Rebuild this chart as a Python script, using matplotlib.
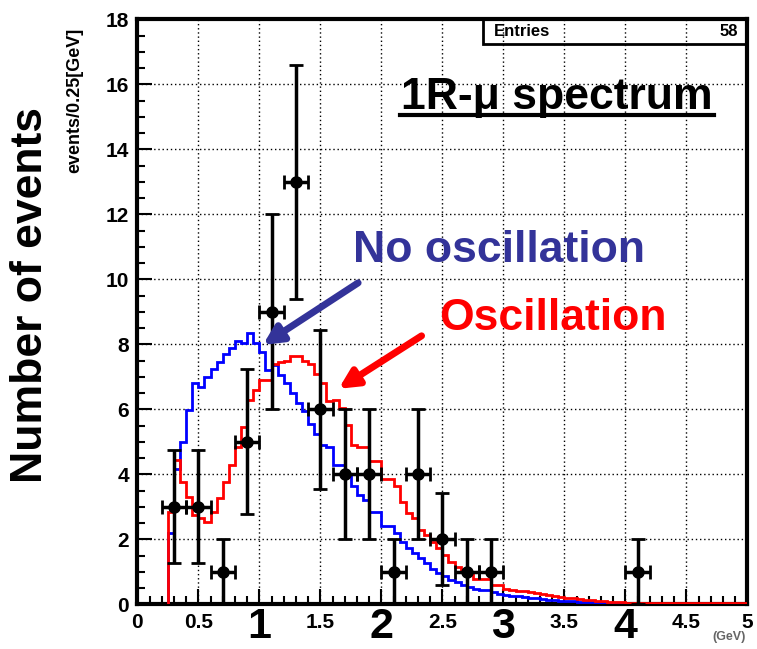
import numpy as np
import matplotlib
matplotlib.use("Agg")
import matplotlib.pyplot as plt
from matplotlib.ticker import MultipleLocator

plt.rcParams.update({"font.family": ["Liberation Sans", "DejaVu Sans"],
                     "font.weight": "bold"})

# MC expectation, 0.05 GeV bins starting at 0.25 GeV
BIN_W = 0.05
FIRST_EDGE = 0.25
no_osc = [2.2, 4.15, 5.0, 5.97, 6.8, 6.7, 7.0, 7.25, 7.45, 7.7,
          7.9, 8.1, 8.05, 8.35, 8.05, 7.75, 7.2, 7.35, 7.05, 6.8,
          6.5, 6.2, 5.95, 5.55, 5.25, 4.9, 4.85, 4.3, 4.3, 4.0,
          3.65, 3.35, 3.2, 2.85, 2.85, 2.41, 2.41, 2.19, 1.93, 1.72,
          1.57, 1.41, 1.26, 1.10, 0.97, 0.87, 0.76, 0.69, 0.59, 0.52,
          0.46, 0.45, 0.44, 0.38, 0.31, 0.28, 0.26, 0.24, 0.22, 0.20,
          0.18, 0.16, 0.14, 0.12, 0.11, 0.10, 0.09, 0.08, 0.07, 0.06,
          0.05, 0.04, 0.035, 0.03, 0.025, 0.02, 0.015, 0.01, 0.01,
          0, 0, 0, 0, 0, 0, 0, 0, 0, 0, 0, 0, 0, 0, 0, 0]
osc = [2.85, 4.44, 3.77, 3.31, 2.75, 2.65, 2.54, 2.85, 3.26, 3.77,
       4.29, 4.85, 5.47, 6.29, 6.6, 6.9, 6.9, 7.38, 7.45, 7.5,
       7.64, 7.64, 7.5, 7.4, 7.1, 6.8, 6.25, 6.3, 6.03, 5.52,
       4.9, 4.85, 4.85, 4.4, 4.4, 3.84, 3.84, 3.63, 3.16, 2.8,
       2.65, 2.29, 2.13, 1.93, 1.72, 1.52, 1.31, 1.15, 1.07, 0.95,
       0.79, 0.79, 0.78, 0.59, 0.59, 0.47, 0.45, 0.42, 0.40, 0.37,
       0.34, 0.31, 0.28, 0.25, 0.22, 0.20, 0.18, 0.16, 0.14, 0.12,
       0.10, 0.09, 0.08, 0.07, 0.06, 0.05, 0.05, 0.04, 0.04,
       0.04, 0.04, 0.04, 0.035, 0.035, 0.035, 0.03, 0.03, 0.03, 0.03,
       0.03, 0.03, 0.03, 0.03, 0.03, 0.03]

# observed events, 0.2 GeV bins
data_x = [0.3, 0.5, 0.7, 0.9, 1.1, 1.3, 1.5, 1.7, 1.9, 2.1, 2.3, 2.5, 2.7, 2.9, 4.1]
data_n = [3, 3, 1, 5, 9, 13, 6, 4, 4, 1, 4, 2, 1, 1, 1]

small_xticks = [0, 0.5, 1, 1.5, 2, 2.5, 3, 3.5, 4, 4.5, 5]
small_xlabels = ["0", "0.5", "", "1.5", "", "2.5", "", "3.5", "", "4.5", "5"]
big_xticks = [1, 2, 3, 4]
yticks = [0, 2, 4, 6, 8, 10, 12, 14, 16, 18]

fig = plt.figure(figsize=(7.57, 6.49), dpi=100)
ax = fig.add_axes([0.1814, 0.0689, 0.8058, 0.9014])

edges = FIRST_EDGE + BIN_W * np.arange(len(no_osc) + 1)
ax.stairs(no_osc, edges, color="#0000ff", lw=2, zorder=3)
ax.stairs(osc, edges, color="#ff0000", lw=2, zorder=3)
ax.errorbar(data_x, data_n, xerr=0.1, yerr=np.sqrt(data_n), fmt="o",
            color="black", ms=8, elinewidth=2.5, capsize=5, capthick=2, zorder=4)

ax.set_xlim(0, 5)
ax.set_ylim(0, 18)
ax.set_xticks(small_xticks)
ax.set_xticklabels(small_xlabels, fontsize=15)
ax.set_yticks(yticks)
ax.set_yticklabels([str(v) for v in yticks], fontsize=15)
ax.xaxis.set_minor_locator(MultipleLocator(0.1))
ax.yaxis.set_minor_locator(MultipleLocator(0.5))
ax.tick_params(which="both", direction="in", top=False, right=False, width=1.5)
ax.tick_params(which="major", length=11, pad=6)
ax.tick_params(which="minor", length=6)
ax.grid(True, which="major", ls=(0, (1, 2)), color="black", lw=1)
for s in ax.spines.values():
    s.set_linewidth(3)

# big overlaid integer labels
for v in big_xticks:
    ax.text(v, -0.0576, str(v), transform=ax.get_xaxis_transform(), ha="center",
            va="baseline", fontsize=31, clip_on=False)
ax.text(4.85, -0.046, "(GeV)", transform=ax.get_xaxis_transform(), ha="center",
        va="top", fontsize=9, color="#666666", clip_on=False)

fig.text(0.04, 0.545, "Number of events", rotation=90, ha="center", va="center",
         fontsize=32)
fig.text(0.099, 0.846, "events/0.25[GeV]", rotation=90, ha="center", va="center",
         fontsize=13)

# stats box
ax.add_patch(plt.Rectangle((0.567, 0.958), 0.433, 0.042, transform=ax.transAxes,
                           fill=False, ec="black", lw=2, zorder=5))
ax.text(0.585, 0.979, "Entries", transform=ax.transAxes, ha="left", va="center",
        fontsize=12, zorder=6)
ax.text(0.985, 0.979, "58", transform=ax.transAxes, ha="right", va="center",
        fontsize=12, zorder=6)

# title
ax.text(3.44, 15.6, "1R-\u03bc spectrum", ha="center", va="center", fontsize=32)
ax.plot([2.15, 4.73], [15.05, 15.05], color="black", lw=3)

ax.text(1.77, 10.9, "No oscillation", ha="left", va="center", fontsize=32,
        color="#333399")
ax.text(2.47, 8.8, "Oscillation", ha="left", va="center", fontsize=32,
        color="#ff0000")
ax.annotate("", xy=(1.03, 7.98), xytext=(1.81, 9.89),
            arrowprops=dict(arrowstyle="-|>", lw=5, color="#333399",
                            mutation_scale=28, shrinkA=0, shrinkB=0), zorder=6)
ax.annotate("", xy=(1.65, 6.63), xytext=(2.33, 8.26),
            arrowprops=dict(arrowstyle="-|>", lw=5, color="#ff0000",
                            mutation_scale=28, shrinkA=0, shrinkB=0), zorder=6)

fig.savefig("out.png", dpi=100)
